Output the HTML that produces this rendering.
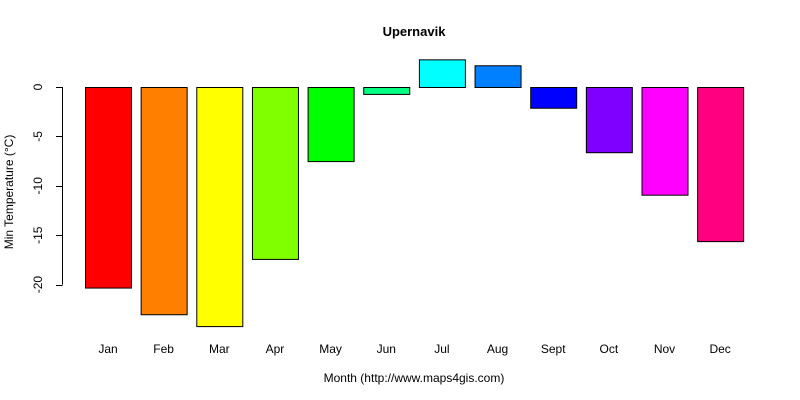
<!DOCTYPE html>
<html><head><meta charset="utf-8"><style>body{margin:0;background:#fff}svg{display:block;font-family:"Liberation Sans",Arial,sans-serif}</style></head>
<body>
<svg id="chart" width="800" height="400" viewBox="0 0 800 400">
<rect width="800" height="400" fill="#fff"/>
<text x="414" y="36" text-anchor="middle" font-size="13" font-weight="bold">Upernavik</text>
<text x="414" y="382" text-anchor="middle" font-size="12">Month (http://www.maps4gis.com)</text>
<text transform="translate(13,192) rotate(-90)" text-anchor="middle" font-size="12">Min Temperature (°C)</text>
<g id="yaxis"></g>
<g id="bars"></g>
<g id="xlabels"></g>
</svg>
<script>
const months=["Jan","Feb","Mar","Apr","May","Jun","Jul","Aug","Sept","Oct","Nov","Dec"];
const values=[-20.3,-23.0,-24.2,-17.4,-7.5,-0.7,2.8,2.2,-2.1,-6.6,-10.9,-15.6];
const colors=["#FF0000","#FF8000","#FFFF00","#80FF00","#00FF00","#00FF80","#00FFFF","#0080FF","#0000FF","#8000FF","#FF00FF","#FF0080"];
const yTicks=[0,-5,-10,-15,-20];
const NS="http://www.w3.org/2000/svg";
function y(v){return 87-v*9.88;}
function x(i){return 85+i*55.65;}
const bw=46;
const bars=document.getElementById('bars'),xl=document.getElementById('xlabels'),ya=document.getElementById('yaxis');
values.forEach((v,i)=>{
 const r=document.createElementNS(NS,'rect');
 
 
 r.setAttribute('x',x(i)+0.5);r.setAttribute('width',bw);
 r.setAttribute('y',Math.min(y(v),y(0))+0.5);r.setAttribute('height',Math.abs(y(v)-y(0)));
 r.setAttribute('fill',colors[i]);r.setAttribute('stroke','#000');
 bars.appendChild(r);
 const t=document.createElementNS(NS,'text');
 
 
 t.setAttribute('x',x(i)+bw/2);t.setAttribute('y',353);t.setAttribute('text-anchor','middle');t.setAttribute('font-size','12');
 t.textContent=months[i];xl.appendChild(t);
});
const al=document.createElementNS(NS,'line');


al.setAttribute('x1',62.5);al.setAttribute('x2',62.5);al.setAttribute('y1',y(yTicks[0]));al.setAttribute('y2',y(yTicks[yTicks.length-1]));al.setAttribute('stroke','#000');
ya.appendChild(al);
yTicks.forEach(v=>{
 const l=document.createElementNS(NS,'line');
 
 
 l.setAttribute('x1',56);l.setAttribute('x2',62.5);l.setAttribute('y1',Math.round(y(v))+0.5);l.setAttribute('y2',Math.round(y(v))+0.5);l.setAttribute('stroke','#000');
 ya.appendChild(l);
 const t=document.createElementNS(NS,'text');
 
 
 const yy=y(v);
 t.setAttribute('transform','translate(42,'+yy+') rotate(-90)');
 t.setAttribute('text-anchor','middle');t.setAttribute('font-size','12');
 t.textContent=v;ya.appendChild(t);
});
</script>
</body></html>
